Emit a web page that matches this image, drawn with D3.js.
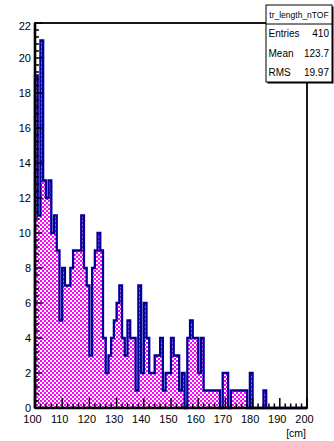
<!DOCTYPE html>
<html><head><meta charset="utf-8">
<script src="https://cdn.jsdelivr.net/npm/d3@7"></script>
<style>body{margin:0;background:#fff}svg{display:block}</style>
</head><body>
<script>
const xMin = 100, xMax = 200;
const counts = [
 19,11,21,13,12,13,10,11,9,5,
 8,7,7,8,9,9,9,11,8,7,
 3,8,9,10,9,4,2,3,4,5,
 6,7,4,3,5,4,4,1,7,2,
 6,4,2,2,3,3,4,1,2,2,
 4,3,3,1,2,0,4,5,4,4,
 2,4,1,1,1,1,1,1,0,2,
 2,0,1,1,1,1,1,1,0,2,
 0,0,0,0,1,0,0,0,0,0,
 0,0,0,0,0,0,0,0,0,0];
const yTicks = [0,2,4,6,8,10,12,14,16,18,20,22];
const xTicks = [100,110,120,130,140,150,160,170,180,190,200];
const statsTitle = "tr_length_nTOF";
const statsRows = [["Entries","410"],["Mean","123.7"],["RMS","19.97"]];
const xUnit = "[cm]";

const W = 334, H = 441;
const fl = 35, fr = 307, ft = 23, fb = 408;
const svg = d3.select("body").append("svg").attr("width", W).attr("height", H);
const defs = svg.append("defs");
const pat = defs.append("pattern").attr("id","chk").attr("patternUnits","userSpaceOnUse")
  .attr("width",4).attr("height",4);
pat.append("rect").attr("width",4).attr("height",4).attr("fill","#fff");
pat.append("rect").attr("width",2).attr("height",2).attr("fill","#ff00ff");
pat.append("rect").attr("x",2).attr("y",2).attr("width",2).attr("height",2).attr("fill","#ff00ff");

const x = d3.scaleLinear().domain([xMin, xMax]).range([fl, fr]);
const y = d3.scaleLinear().domain([0, 22]).range([fb, ft]);
const bw = (xMax - xMin) / counts.length;

// histogram path
let pts = [[x(xMin), y(0)]];
counts.forEach((c, i) => {
  pts.push([x(xMin + i*bw), y(c)]);
  pts.push([x(xMin + (i+1)*bw), y(c)]);
});
pts.push([x(xMax), y(0)]);
const line = d3.line();
svg.append("path").attr("d", line(pts) + "Z").attr("fill","url(#chk)").attr("stroke","none")
  .attr("shape-rendering","crispEdges");
svg.append("path").attr("d", line(pts)).attr("fill","none").attr("stroke","#000099")
  .attr("stroke-width",2.3).attr("stroke-linejoin","miter");

// frame
svg.append("rect").attr("x",fl).attr("y",ft).attr("width",fr-fl).attr("height",fb-ft)
  .attr("fill","none").attr("stroke","#000").attr("stroke-width",1.8);

const font = "Liberation Sans, Arial, Helvetica, sans-serif";
// x axis
const xAxis = svg.append("g");
d3.range(xMin, xMax + 0.001, 2).forEach(v => {
  const major = Math.abs(v % 10) < 1e-6;
  xAxis.append("line").attr("x1", x(v)).attr("x2", x(v)).attr("y1", fb).attr("y2", fb - (major ? 10 : 4.5))
    .attr("stroke","#000").attr("stroke-width",1.5);
});
xAxis.append("line").attr("x1",fl).attr("x2",fr).attr("y1",fb).attr("y2",fb).attr("stroke","#000").attr("stroke-width",2.6);
xTicks.forEach(v => {
  xAxis.append("text").attr("x", x(v) - 2.5).attr("y", 423).attr("text-anchor","middle")
    .attr("font-family", font).attr("font-size", 11).text(v);
});
svg.append("text").attr("x", fr - 1).attr("y", 437).attr("text-anchor","end")
  .attr("font-family", font).attr("font-size", 10.5).text(xUnit);

// y axis
const yAxis = svg.append("g");
d3.range(0, 22.001, 0.4).forEach(v => {
  const major = Math.abs(v/2 - Math.round(v/2)) < 1e-6;
  yAxis.append("line").attr("x1", fl).attr("x2", fl + (major ? 7.5 : 4)).attr("y1", y(v)).attr("y2", y(v))
    .attr("stroke","#000").attr("stroke-width",1.5);
});
yAxis.append("line").attr("x1",fl).attr("x2",fl).attr("y1",ft).attr("y2",fb).attr("stroke","#000").attr("stroke-width",2.6);
yTicks.forEach(v => {
  yAxis.append("text").attr("x", 31).attr("y", y(v) + 4 + (v === 22 ? 3 : 0)).attr("text-anchor","end")
    .attr("font-family", font).attr("font-size", 11).text(v);
});

// stats box
const sx = 266, sy = 5, sw = 66, sh = 77;
svg.append("rect").attr("x", sx+1.5).attr("y", sy+1.5).attr("width", sw).attr("height", sh).attr("fill","#000");
svg.append("rect").attr("x", sx).attr("y", sy).attr("width", sw).attr("height", sh).attr("fill","#fff")
  .attr("stroke","#000").attr("stroke-width",1);
svg.append("line").attr("x1", sx).attr("x2", sx+sw).attr("y1", 24).attr("y2", 24).attr("stroke","#000");
svg.append("text").attr("x", sx + sw/2).attr("y", 18).attr("text-anchor","middle")
  .attr("font-family", font).attr("font-size", 8.5).text(statsTitle);
statsRows.forEach((r, i) => {
  const ty = 37 + i*19.7;
  svg.append("text").attr("x", sx + 2.5).attr("y", ty).attr("font-family", font).attr("font-size", 10).text(r[0]);
  svg.append("text").attr("x", sx + sw - 3).attr("y", ty).attr("text-anchor","end")
    .attr("font-family", font).attr("font-size", 10).text(r[1]);
});
</script>
</body></html>
